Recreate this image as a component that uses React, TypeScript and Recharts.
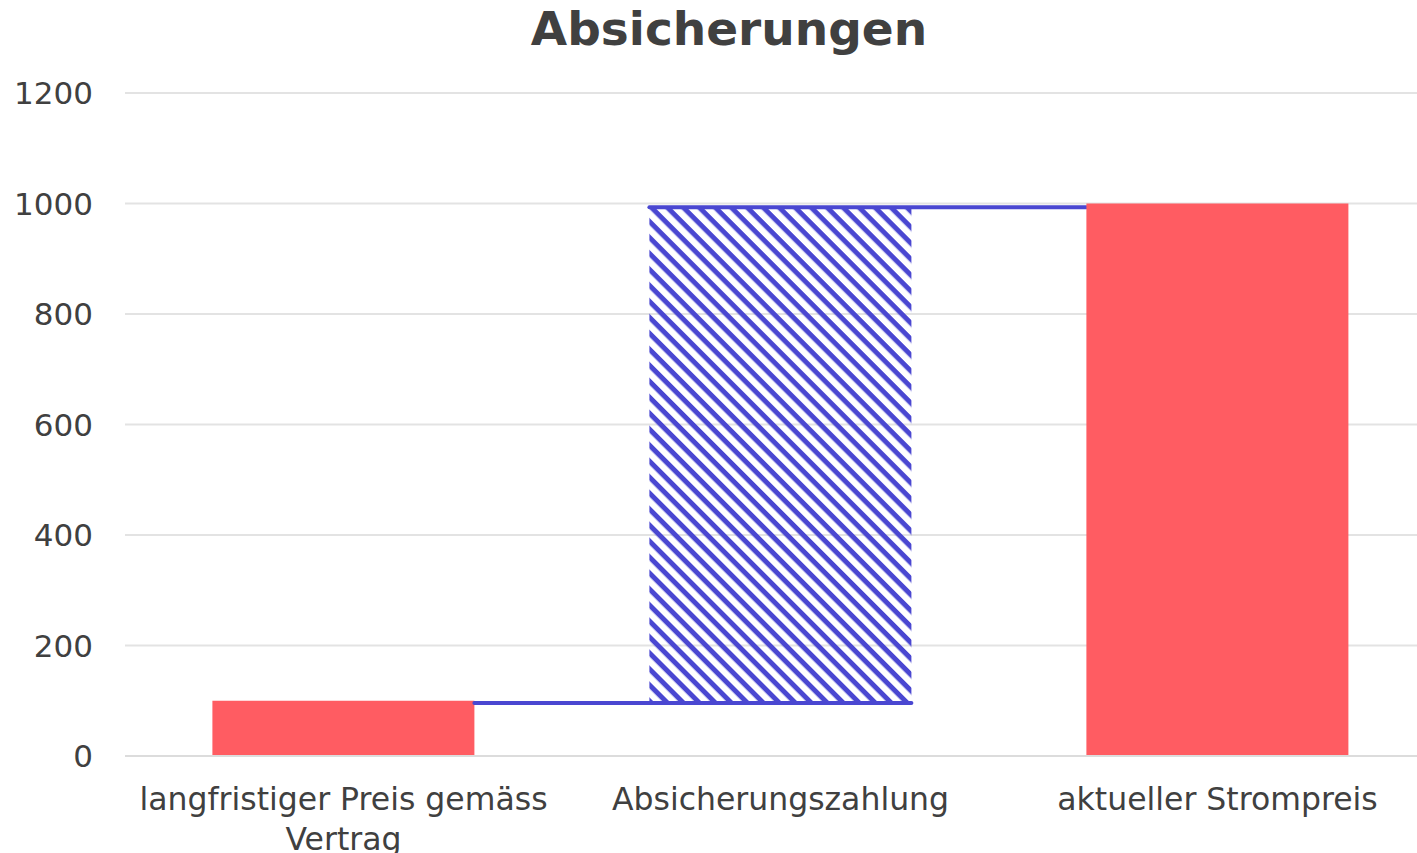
import { BarChart, Bar, XAxis, YAxis, CartesianGrid } from 'recharts';

const categories = ['langfristiger Preis gemäss Vertrag', 'Absicherungszahlung', 'aktueller Strompreis'];
const bases = [0, 96, 0];
const values = [100, 897, 1000];
const kinds = ['total', 'delta', 'total'];
const yTicks = [0, 200, 400, 600, 800, 1000, 1200];

const data = categories.map((name, i) => ({ name, base: bases[i], value: values[i], kind: kinds[i] }));

const W = 1417;
const CHART_W = 1436; // plot runs past the right edge of the picture
const H = 853;
const Y_AXIS_W = 125;
const BAND = (CHART_W - Y_AXIS_W) / categories.length;

const RED = '#FF5C62';
const BLUE = '#4A47D1';
const TEXT = '#404040';
const FONT = '"DejaVu Sans", Verdana, sans-serif';
const LABEL_SIZE = 31.5;

let ctx: CanvasRenderingContext2D | null = null;
const measure = (s: string) => {
  if (!ctx) {
    ctx = document.createElement('canvas').getContext('2d');
    if (ctx) ctx.font = `${LABEL_SIZE}px "DejaVu Sans"`;
  }
  return ctx ? ctx.measureText(s).width : s.length * LABEL_SIZE * 0.6;
};

const wrap = (label: string, maxW: number) => {
  const lines: string[] = [];
  let cur = '';
  label.split(' ').forEach((w) => {
    const next = cur ? cur + ' ' + w : w;
    if (cur && measure(next) > maxW) {
      lines.push(cur);
      cur = w;
    } else cur = next;
  });
  if (cur) lines.push(cur);
  return lines;
};

const StepShape = (props: any) => {
  const { x, y, width, height, payload } = props;
  if (payload.kind !== 'delta') {
    return <rect x={x} y={y} width={width} height={height} fill={RED} />;
  }
  const gap = BAND - width;
  return (
    <g>
      <rect x={x} y={y} width={width} height={height} fill="url(#hatch)" />
      <line x1={x - gap} y1={y + height} x2={x + width} y2={y + height} stroke={BLUE} strokeWidth={4} strokeLinecap="round" />
      <line x1={x} y1={y} x2={x + width + gap} y2={y} stroke={BLUE} strokeWidth={4} strokeLinecap="round" />
    </g>
  );
};

const CategoryTick = (props: any) => {
  const { x, y, payload } = props;
  const lines = wrap(String(payload.value), BAND - 20);
  return (
    <text x={x} y={y + 46} textAnchor="middle" fill={TEXT} fontSize={LABEL_SIZE} fontFamily={FONT}>
      {lines.map((l, i) => (
        <tspan key={i} x={x} dy={i === 0 ? 0 : 40}>
          {l}
        </tspan>
      ))}
    </text>
  );
};

export default function App() {
  return (
    <div style={{ position: 'absolute', left: 0, top: 0, width: W, height: H, overflow: 'hidden', background: '#fff' }}>
      <svg width={W} height={60} style={{ position: 'absolute', left: 0, top: 0, zIndex: 1 }}>
        <text x={729} y={45} textAnchor="middle" fontFamily={FONT} fontWeight="bold" fontSize={47} fill={TEXT}>
          Absicherungen
        </text>
      </svg>
      <BarChart
        width={CHART_W}
        height={H}
        data={data}
        margin={{ top: 93, right: 0, bottom: 0, left: 0 }}
        barCategoryGap="20%"
      >
        <defs>
          <pattern id="hatch" patternUnits="userSpaceOnUse" width={11.3} height={11.3} patternTransform="rotate(45)">
            <rect x={0} y={0} width={11.3} height={5} fill={BLUE} />
          </pattern>
        </defs>
        <CartesianGrid vertical={false} stroke="#e3e3e3" strokeWidth={2} />
        <XAxis
          dataKey="name"
          height={97}
          interval={0}
          tickLine={false}
          axisLine={{ stroke: '#dcdcdc', strokeWidth: 2 }}
          tick={<CategoryTick />}
        />
        <YAxis
          width={Y_AXIS_W}
          domain={[0, 1200]}
          ticks={yTicks}
          axisLine={false}
          tickLine={false}
          tickSize={0}
          tickMargin={32}
          tick={{ fill: TEXT, fontSize: 31, fontFamily: FONT }}
        />
        <Bar dataKey="base" stackId="a" fill="transparent" isAnimationActive={false} />
        <Bar dataKey="value" stackId="a" shape={StepShape} isAnimationActive={false} />
      </BarChart>
    </div>
  );
}
